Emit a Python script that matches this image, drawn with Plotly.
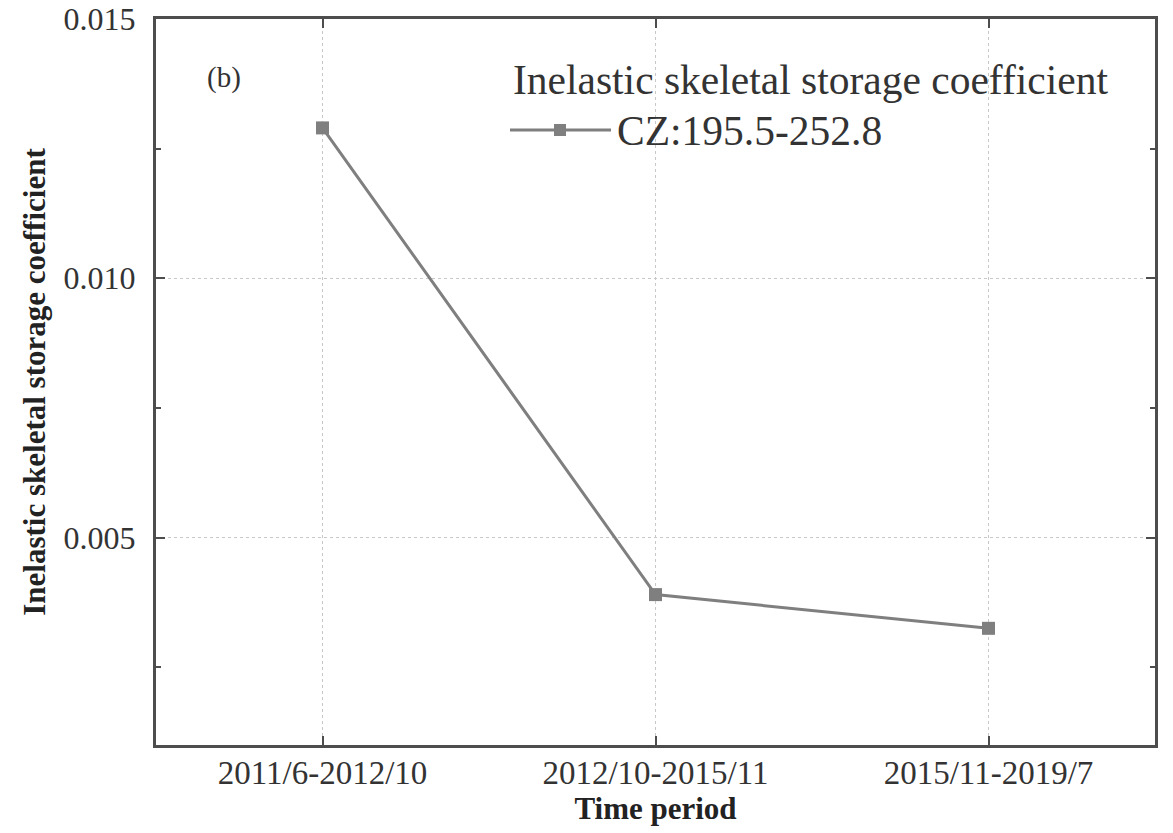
import plotly.graph_objects as go

# Time periods and the inelastic skeletal storage coefficient for each
periods = ["2011/6-2012/10", "2012/10-2015/11", "2015/11-2019/7"]
coefficient = [0.0129, 0.0039, 0.00325]
series_name = "CZ:195.5-252.8"
legend_title = "Inelastic skeletal storage coefficient"

gray = "#7f7f7f"
axis_color = "#4d4d4d"
text_color = "#333333"
serif = "Liberation Serif"

W, H = 1173, 833
ML, MR, MT, MB = 156, 18, 19, 88


def px(xp):
    """Pixel column -> paper x."""
    return (xp - ML) / (W - ML - MR)


def py(yp):
    """Pixel row -> paper y."""
    return 1 - (yp - MT) / (H - MT - MB)


fig = go.Figure()
fig.add_trace(go.Scatter(
    x=periods, y=coefficient, mode="lines+markers", name=series_name,
    line=dict(color=gray, width=3),
    marker=dict(symbol="square", size=13, color=gray),
    showlegend=False,
))

fig.update_layout(
    width=W, height=H,
    margin=dict(l=ML, r=MR, t=MT, b=MB, autoexpand=False),
    paper_bgcolor="white", plot_bgcolor="white",
    font=dict(family=serif, color=text_color),
)

fig.update_xaxes(
    type="category", range=[-0.5, 2.5], automargin=False,
    showline=True, linecolor=axis_color, linewidth=3, mirror="ticks",
    ticks="inside", ticklen=9, tickwidth=2, tickcolor=axis_color,
    showgrid=True, gridcolor="#c8c8c8", gridwidth=1, griddash="3px,3px",
    tickfont=dict(size=33, family=serif, color=text_color),
    ticklabelstandoff=-4,
    title=dict(text="<b>Time period</b>", font=dict(size=31, family=serif, color="#222222"), standoff=4),
    zeroline=False,
)

fig.update_yaxes(
    range=[0.001, 0.015], tickvals=[0.005, 0.010, 0.015],
    ticktext=["0.005", "0.010", "0.015"], automargin=False,
    showline=True, linecolor=axis_color, linewidth=3, mirror="ticks",
    ticks="inside", ticklen=9, tickwidth=2, tickcolor=axis_color,
    minor=dict(tickvals=[0.0025, 0.0075, 0.0125], ticks="inside", ticklen=5,
               tickwidth=2, tickcolor=axis_color, showgrid=False),
    showgrid=True, gridcolor="#c8c8c8", gridwidth=1, griddash="3px,3px",
    tickfont=dict(size=32, family=serif, color=text_color),
    ticklabelstandoff=11,
    title=dict(text="<b>Inelastic skeletal storage coefficient</b>",
               font=dict(size=31, family=serif, color="#222222"), standoff=9),
    zeroline=False,
)

# Panel label
fig.add_annotation(
    text="(b)", xref="paper", yref="paper", x=px(205), y=py(77),
    xanchor="left", yanchor="middle", showarrow=False,
    font=dict(size=29, family=serif, color=text_color),
)

# Legend: title, sample line with square marker, series name
fig.add_annotation(
    text=legend_title, xref="paper", yref="paper", x=px(511), y=py(80),
    xanchor="left", yanchor="middle", showarrow=False,
    font=dict(size=41.5, family=serif, color=text_color),
)
fig.add_shape(
    type="line", xref="paper", yref="paper",
    x0=px(510), x1=px(611), y0=py(130), y1=py(130),
    line=dict(color=gray, width=3),
)
fig.add_shape(
    type="rect", xref="paper", yref="paper",
    x0=px(554), x1=px(566), y0=py(136), y1=py(124),
    line=dict(width=0), fillcolor=gray,
)
fig.add_annotation(
    text=series_name, xref="paper", yref="paper", x=px(615), y=py(131),
    xanchor="left", yanchor="middle", showarrow=False,
    font=dict(size=41.5, family=serif, color=text_color),
)

fig.write_html("out.html")
